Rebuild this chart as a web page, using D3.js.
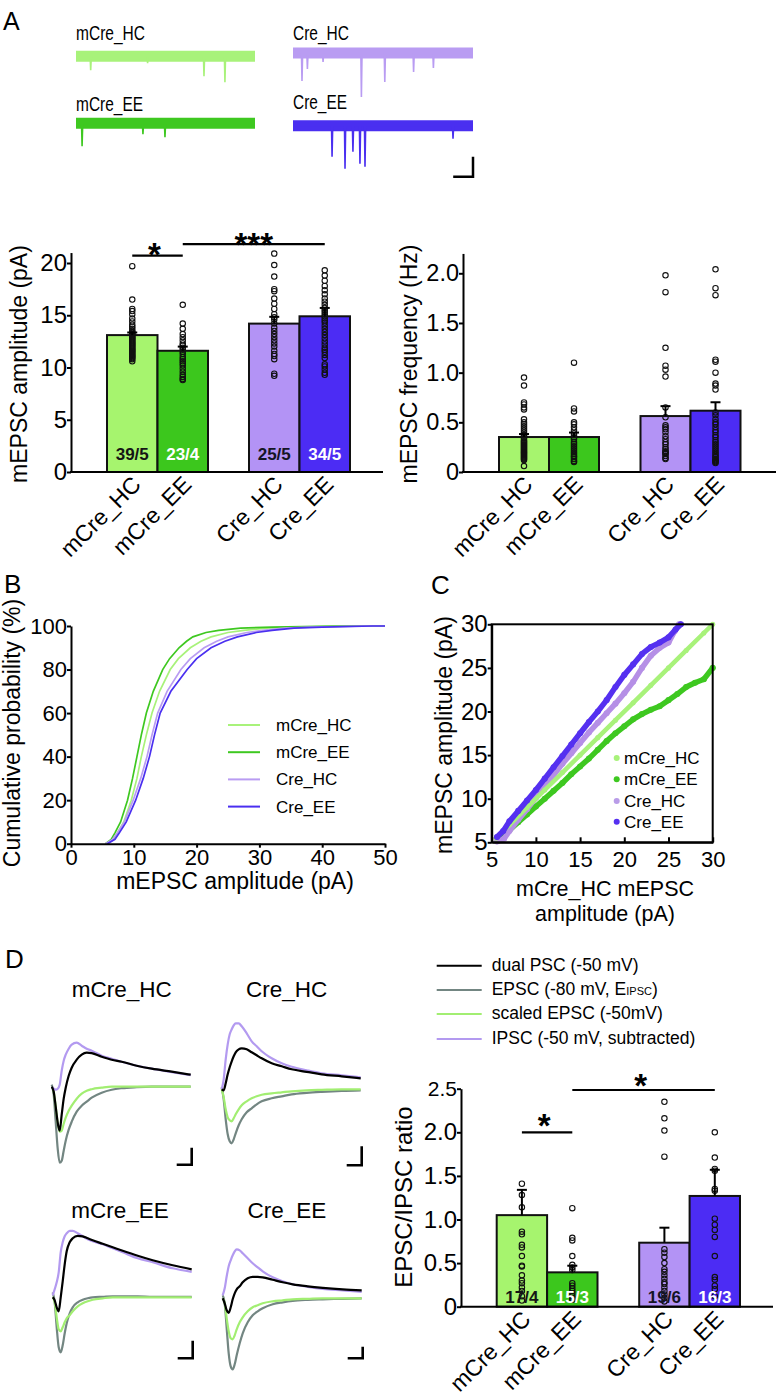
<!DOCTYPE html>
<html><head><meta charset="utf-8">
<script src="https://cdn.jsdelivr.net/npm/d3@7"></script>
<style>body{margin:0;background:#fff}svg{display:block}</style>
</head><body>
<svg id="fig" width="778" height="1400"></svg>
<script>
// ================= DATA =================
const groups = ["mCre_HC", "mCre_EE", "Cre_HC", "Cre_EE"];
const barColors = ["#a6f46e", "#3cc71d", "#b393f5", "#4c2cf4"];
const traceColors = ["#a8f27a", "#3ec820", "#b99cf2", "#4a2ff0"];
const nLabelColors = ["#151515", "#ffffff", "#151525", "#ffffff"];

// A: example traces (spike time in % of sweep, amplitude in pA)
const spikeT_mCreHC = [8.2, 40, 71.5, 83.2];
const spikeA_mCreHC = [-14, -7, -20, -26];
const spikeT_mCreEE = [3.4, 37.4, 49.7];
const spikeA_mCreEE = [-23, -11, -14];
const spikeT_CreHC = [5, 8, 16.7, 38, 51, 67, 78];
const spikeA_CreHC = [-28, -16, -9, -44, -29, -19, -15];
const spikeT_CreEE = [21.7, 28.9, 33.3, 37.2, 40, 88.9];
const spikeA_CreEE = [-31, -43, -26, -38, -41, -13];
const traceScaleBarA = [11, 20];

// A: mEPSC amplitude
const ampMeans = [13.1, 11.6, 14.2, 14.9];
const ampSems = [0.25, 0.4, 0.65, 0.8];
const ampN = ["39/5", "23/4", "25/5", "34/5"];
const ampDots_mCreHC = [19.7,16.5,15.6,15.4,15.1,14.7,14.4,14.1,13.9,13.7,13.5,13.4,13.3,13.2,13.1,13.0,12.9,12.8,12.7,12.6,12.5,12.4,12.3,12.2,12.1,12.0,11.9,11.8,11.7,11.6,11.5,11.4,11.3,11.2,11.1,11.0,10.9,10.8,10.6];
const ampDots_mCreEE = [16.0,14.2,13.7,13.2,12.9,12.6,12.3,12.1,11.9,11.7,11.5,11.3,11.0,10.8,10.6,10.4,10.2,9.9,9.6,9.3,9.1,8.9,8.8];
const ampDots_CreHC = [20.9,19.8,18.7,17.5,17.3,16.6,16.1,15.6,15.1,14.8,14.6,14.2,13.8,13.5,13.2,12.9,12.6,12.3,12.0,11.6,11.3,11.1,10.8,9.4,9.2];
const ampDots_CreEE = [19.3,18.8,18.3,17.8,17.4,17.0,16.6,16.3,16.0,15.7,15.5,15.3,15.1,14.9,14.7,14.5,14.3,14.0,13.7,13.4,13.1,12.8,12.5,12.2,11.9,11.7,11.5,11.2,10.9,10.3,10.1,9.8,9.5,9.3];
const ampTicks = [0, 5, 10, 15, 20];
const ampTickLabels = ["0", "5", "10", "15", "20"];
const ampSig = [{a: 0, b: 1, y: 20.7, s: "*"}, {a: 1, b: 3, y: 21.8, s: "***"}];

// A: mEPSC frequency
const freqMeans = [0.352, 0.352, 0.563, 0.617];
const freqSems = [0.03, 0.045, 0.1, 0.085];
const freqDots_mCreHC = [0.95,0.87,0.70,0.68,0.65,0.63,0.53,0.50,0.48,0.46,0.44,0.42,0.40,0.38,0.37,0.35,0.34,0.32,0.31,0.30,0.29,0.28,0.27,0.26,0.25,0.24,0.23,0.22,0.21,0.20,0.19,0.18,0.17,0.16,0.15,0.14,0.13,0.12,0.06];
const freqDots_mCreEE = [1.10,0.64,0.61,0.50,0.48,0.45,0.42,0.39,0.37,0.35,0.33,0.30,0.28,0.26,0.24,0.22,0.20,0.18,0.16,0.15,0.13,0.11,0.10];
const freqDots_CreHC = [1.98,1.81,1.25,1.07,1.03,0.96,0.65,0.55,0.47,0.45,0.43,0.40,0.36,0.33,0.30,0.28,0.25,0.23,0.21,0.20,0.19,0.18,0.16,0.14,0.13];
const freqDots_CreEE = [2.04,1.85,1.78,1.13,1.11,1.00,0.89,0.87,0.83,0.60,0.57,0.53,0.50,0.48,0.45,0.42,0.40,0.37,0.35,0.32,0.30,0.28,0.26,0.24,0.22,0.20,0.18,0.16,0.15,0.13,0.12,0.11,0.10,0.09];
const freqTicks = [0, 0.5, 1, 1.5, 2];
const freqTickLabels = ["0", "0.5", "1.0", "1.5", "2.0"];

// B: cumulative distributions (amplitude, pA, at each percentile)
const cdfPercent = [0,2,5,10,20,30,40,50,60,70,80,85,90,93,95,97,98,99,99.5,100,100];
const cdf_mCreHC = [5.8,6.8,7.4,8.4,9.6,10.5,11.2,12.0,12.9,14.1,15.8,17.1,19.0,20.7,22.3,25,27.5,31,36,45,50];
const cdf_mCreEE = [5.5,6.4,7.0,7.9,9.0,9.8,10.5,11.2,12.0,13.1,14.6,15.7,17.2,18.4,19.4,21.5,23.5,27,32,42,50];
const cdf_CreHC = [5.5,6.6,7.4,8.5,9.9,11.1,12.1,12.9,13.8,15.3,17.5,19.0,21.2,23.2,25.0,28,30.5,34,38,47,50];
const cdf_CreEE = [5.8,7.0,7.7,8.8,10.3,11.5,12.5,13.3,14.2,15.9,18.5,20.0,22.3,24.5,26.5,29.5,32,35.5,40,48,50];
const cdfXTicks = [0, 10, 20, 30, 40, 50];
const cdfYTicks = [0, 20, 40, 60, 80, 100];

// C: rank-ordered (Q-Q) plot vs mCre_HC
const qq_mCreHC_x = [5.5,7,9,11,13,15,17,19,21,23,25,27,29,30];
const qq_mCreHC_y = [5.5,7,9,11,13,15,17,19,21,23,25,27,29,30];
const qq_mCreEE_x = [6,7,8,9,10,11,12,13,14,15,16,17,18,19,20,21,22,23,24,25,26,27,28,29,30];
const qq_mCreEE_y = [5.6,6.4,7.3,8.2,9.1,10.0,10.9,11.8,12.8,13.7,14.6,15.6,16.6,17.5,18.3,19.1,19.7,20.2,20.6,21.3,22.0,22.8,23.3,23.7,25.0];
const qq_CreHC_x = [5.6,6.4,7,8,9,10,11,12,13,14,15,16,17,18,19,20,21,22,23,24,25,25.7,26.2];
const qq_CreHC_y = [5.1,5.4,6.3,7.6,8.8,10.1,11.4,12.7,14.0,15.2,16.4,17.6,18.7,19.8,20.9,22.1,23.4,25.0,26.4,27.3,27.9,29.2,30.0];
const qq_CreEE_x = [5.6,6.3,7,8,9,10,11,12,13,14,15,16,17,18,19,20,21,22,23,24,25,25.8,26.4];
const qq_CreEE_y = [5.6,6.3,7.4,8.6,9.8,11.0,12.3,13.6,14.9,16.2,17.5,18.8,20.0,21.3,22.8,24.2,25.4,26.6,27.4,27.9,28.5,29.4,30.0];
const qqTicks = [5, 10, 15, 20, 25, 30];

// D: averaged PSC traces (time in ms, current in pA, up = outward)
const psT = [0,2,4,6,8,10,12,14,17,20,25,30,35,40,50,60,70,85,100,120,139];
const ps1_gray  = [2,-8,-35,-62,-76,-74,-64,-54,-43,-35,-25,-19,-15,-11,-6,-3,-1.5,-0.5,0,0,0];
const ps1_green = [0,-5,-20,-36,-45,-44,-37,-31,-24,-19,-12,-7,-4,-2.5,-1,0,0,0,0,0,0];
const ps1_black = [0,-5,-20,-36,-44,-28,-12,-1,11,19,27,32,34,33.5,30,27,25,21,18,15,12];
const ps1_lav   = [0,-2,-3,-2,2,16,26,32,38,42,44,41,38,36,31,28,25,21,18,14.5,11.5];
const ps2_gray  = [2,-10,-30,-45,-52,-54,-50,-44,-36,-30,-23,-19,-15,-12,-9,-7,-5,-3.5,-2.5,-1.5,-1];
const ps2_green = [0,-8,-20,-28,-31,-32,-29,-25,-20,-16,-12,-9,-7,-5.5,-4,-3,-2,-1,-0.5,0,0];
const ps2_black = [0,-1,6,15,22,28,33,37,40,41,40,37,34,31,26,23,20,17.5,15,13,11];
const ps2_lav   = [0,10,30,45,55,60,64,66,66,63,56,48,43,38,31,26,22.5,19,16,14,12];
const ps3_gray  = [5,-5,-30,-50,-55,-48,-36,-26,-16,-10,-5,-2.5,-1,0,0.5,1,1,1,0.5,0.5,0.5];
const ps3_green = [0,-5,-20,-32,-34,-30,-25,-21,-18,-14,-9,-6,-4,-2.5,-1,0,0,0,0,0,0];
const ps3_black = [0,-3,-10,-14,0,16,33,46,55,59,61.5,61,59,57,53.5,50,46.5,41.5,37,32,28];
const ps3_lav   = [2,8,15,25,45,55,61,64,66.5,66.5,64,61,58,56,53,49,45,39,35,29,25.5];
const ps4_gray  = [3,-5,-30,-55,-68,-71,-66,-57,-45,-35,-24,-17,-13,-10,-6,-4,-2.5,-1.5,-1,-0.5,0];
const ps4_green = [0,-5,-20,-33,-40,-41,-37,-31,-24,-19,-13,-9,-7,-5,-3,-2,-1,-0.5,0,0,0];
const ps4_black = [0,-5,-12,-14.5,-9,-1,5,9,12,16,20,21.5,21.5,21,18.5,16,14,12,10.5,9,8];
const ps4_lav   = [3,10,22,32,38,43,47,49,48,45,40,35,31,27,21,17,14,11.5,9.5,8,6.5];
const psScaleBarMs = 15;
const psScaleBarPa = [17, 19, 17.6, 11.6];
const psScaleBarLow = [-78, -76, -61, -60];
const psLegend = ["dual PSC (-50 mV)", "EPSC (-80 mV, E", "scaled EPSC (-50mV)", "IPSC (-50 mV, subtracted)"];
const psColors = ["#000000", "#738682", "#a2ee72", "#b39af0"];

// D: EPSC/IPSC ratio
const ratioMeans = [1.05, 0.394, 0.734, 1.27];
const ratioSems = [0.29, 0.076, 0.172, 0.30];
const ratioN = ["17/4", "15/3", "19/6", "16/3"];
const ratioDots_mCreHC = [1.41,1.28,1.14,0.86,0.83,0.71,0.68,0.58,0.47,0.46,0.36,0.30,0.27,0.22,0.18,0.12,0.07];
const ratioDots_mCreEE = [1.13,0.79,0.76,0.58,0.48,0.45,0.42,0.27,0.24,0.21,0.18,0.15,0.12,0.10,0.08];
const ratioDots_CreHC = [2.35,2.16,2.02,1.72,0.66,0.62,0.57,0.50,0.43,0.40,0.36,0.32,0.28,0.26,0.22,0.18,0.14,0.10,0.06];
const ratioDots_CreEE = [2.00,1.71,1.58,1.56,1.35,1.33,1.01,0.94,0.88,0.80,0.58,0.34,0.31,0.24,0.20,0.12];
const ratioTicks = [0, 0.5, 1, 1.5, 2, 2.5];
const ratioTickLabels = ["0", "0.5", "1.0", "1.5", "2.0", "2.5"];
const ratioSig = [{a: 0, b: 1, y: 2.0, s: "*"}, {a: 1, b: 3, y: 2.485, s: "*"}];

// ================= DRAWING =================
const FONT = '"Liberation Sans", Arial, Helvetica, sans-serif';
const svg = d3.select("#fig");

function txt(g, x, y, s, size, o = {}) {
  const t = g.append("text").attr("x", x).attr("y", y).text(s)
    .attr("font-size", size).attr("font-family", FONT).attr("fill", o.fill || "#000");
  if (o.anchor) t.attr("text-anchor", o.anchor);
  if (o.weight) t.attr("font-weight", o.weight);
  if (o.rotate !== undefined) t.attr("transform", `rotate(${o.rotate},${x},${y})`);
  if (o.len) t.attr("textLength", o.len).attr("lengthAdjust", "spacingAndGlyphs");
  return t;
}
function styleAxis(ga, size) {
  ga.select(".domain").attr("stroke", "#000").attr("stroke-width", 2);
  ga.selectAll(".tick line").attr("stroke", "#000").attr("stroke-width", 2);
  ga.selectAll(".tick text").attr("font-size", size).attr("font-family", FONT).attr("fill", "#000");
}

// panel letters
txt(svg, 3, 30, "A", 25);
txt(svg, 4, 593, "B", 26);
txt(svg, 431, 594, "C", 26);
txt(svg, 5, 968, "D", 26);

// ---------- A traces ----------
(function () {
  const g = svg.append("g");
  const specs = [
    {name: "mCre_HC", t: spikeT_mCreHC, a: spikeA_mCreHC, c: traceColors[0], x0: 76, x1: 255, yc: 56.3, lx: 76, ly: 39.5, len: 69},
    {name: "mCre_EE", t: spikeT_mCreEE, a: spikeA_mCreEE, c: traceColors[1], x0: 76, x1: 255, yc: 123.3, lx: 76, ly: 110.5, len: 67},
    {name: "Cre_HC", t: spikeT_CreHC, a: spikeA_CreHC, c: traceColors[2], x0: 293, x1: 473, yc: 53, lx: 293, ly: 39.5, len: 56},
    {name: "Cre_EE", t: spikeT_CreEE, a: spikeA_CreEE, c: traceColors[3], x0: 293, x1: 473, yc: 125.7, lx: 293, ly: 109, len: 54}
  ];
  specs.forEach((s, k) => {
    const x = d3.scaleLinear().domain([0, 100]).range([s.x0, s.x1]);
    const y = d3.scaleLinear().domain([0, -60]).range([s.yc, s.yc + 60]);
    const line = d3.line().x(d => x(d[0])).y(d => y(d[1]));
    g.append("path").attr("d", line([[0, 0], [100, 0]])).attr("stroke", s.c).attr("stroke-width", 11).attr("fill", "none");
    const pts = [[0, 0]];
    s.t.forEach((t, i) => { pts.push([t - 0.3, 0], [t, s.a[i]], [t + 0.35, 0]); });
    pts.push([100, 0]);
    g.append("path").attr("d", line(pts)).attr("stroke", s.c).attr("stroke-width", 1.6).attr("fill", "none");
    txt(g, s.lx, s.ly, s.name, 20.5, {len: s.len});
    if (k === 3) {
      const tr = 100, low = -51;
      g.append("path").attr("d", line([[tr - traceScaleBarA[0], low], [tr, low], [tr, low + traceScaleBarA[1]]]))
        .attr("stroke", "#000").attr("stroke-width", 2.5).attr("fill", "none");
    }
  });
})();

// ---------- bar charts ----------
function barChart(o) {
  const g = svg.append("g");
  const x = d3.scaleBand().domain(groups).range([o.left, o.left + 4 * o.bw]);
  const xl = c => x(c) + (groups.indexOf(c) >= 2 ? o.gap : 0);
  const xc = c => xl(c) + x.bandwidth() / 2;
  const y = d3.scaleLinear().domain([0, o.ymax]).range([o.base, o.base - o.ymax * o.ppu]);
  g.selectAll("rect.bar").data(groups).join("rect").attr("class", "bar")
    .attr("x", c => xl(c)).attr("y", (c, i) => y(o.means[i]))
    .attr("width", x.bandwidth()).attr("height", (c, i) => y(0) - y(o.means[i]))
    .attr("fill", (c, i) => barColors[i]).attr("stroke", "#111").attr("stroke-width", 2);
  groups.forEach((c, i) => {
    g.append("g").selectAll("circle").data(o.dots[i]).join("circle")
      .attr("cx", xc(c)).attr("cy", v => y(v)).attr("r", 2.7)
      .attr("fill", "none").attr("stroke", "#111").attr("stroke-width", 1.1);
  });
  groups.forEach((c, i) => {
    const top = y(o.means[i] + o.sems[i]);
    g.append("line").attr("x1", xc(c)).attr("x2", xc(c)).attr("y1", y(o.means[i])).attr("y2", top).attr("stroke", "#000").attr("stroke-width", 2);
    g.append("line").attr("x1", xc(c) - 5).attr("x2", xc(c) + 5).attr("y1", top).attr("y2", top).attr("stroke", "#000").attr("stroke-width", 2);
  });
  if (o.n) groups.forEach((c, i) => txt(g, xc(c), o.nY, o.n[i], 17, {anchor: "middle", weight: "bold", fill: nLabelColors[i]}));
  if (o.sig) o.sig.forEach(s => {
    const xa = xc(groups[s.a]), xb = xc(groups[s.b]);
    g.append("line").attr("x1", xa).attr("x2", xb).attr("y1", y(s.y)).attr("y2", y(s.y)).attr("stroke", "#000").attr("stroke-width", 2.2);
    txt(g, (xa + xb) / 2 - (s.s.length === 1 ? 3 : 0), y(s.y) - s.lift + 19, s.s, 33, {anchor: "middle", weight: "bold"});
  });
  const ya = d3.axisLeft(y).tickValues(o.ticks).tickFormat((d, i) => o.tickLabels[i]).tickSize(4).tickPadding(0).tickSizeOuter(0);
  const ga = g.append("g").attr("transform", `translate(${o.axisX},0)`).call(ya);
  styleAxis(ga, o.tickFont);
  if (o.smallTop) ga.selectAll(".tick text").filter(d => d === o.ymax).attr("font-size", o.smallTop);
  g.append("line").attr("x1", o.axisX - 1).attr("x2", o.axisEnd).attr("y1", y(0)).attr("y2", y(0)).attr("stroke", "#000").attr("stroke-width", 2);
  groups.forEach(c => {
    const px = xc(c) + 10, py = y(0) + 14;
    txt(g, px, py, c, 23, {anchor: "end", rotate: -45});
  });
  txt(g, o.ylabX, o.ylabY, o.ylab, o.ylabSize, {anchor: "middle", rotate: -90});
}

barChart({left: 107, bw: 50.5, gap: 41, base: 472, ppu: 10.45, ymax: 21, axisX: 71, axisEnd: 383,
  means: ampMeans, sems: ampSems, dots: [ampDots_mCreHC, ampDots_mCreEE, ampDots_CreHC, ampDots_CreEE],
  n: ampN, nY: 460, sig: ampSig.map((s, i) => Object.assign({lift: i ? 7.3 : 8.5}, s)),
  ticks: ampTicks, tickLabels: ampTickLabels, tickFont: 24,
  ylab: "mEPSC amplitude (pA)", ylabX: 27, ylabY: 364, ylabSize: 23});

barChart({left: 499, bw: 50, gap: 41.5, base: 472, ppu: 99.35, ymax: 2.2, axisX: 463, axisEnd: 776,
  means: freqMeans, sems: freqSems, dots: [freqDots_mCreHC, freqDots_mCreEE, freqDots_CreHC, freqDots_CreEE],
  ticks: freqTicks, tickLabels: freqTickLabels, tickFont: 23.5,
  ylab: "mEPSC frequency (Hz)", ylabX: 417, ylabY: 364, ylabSize: 23});

barChart({left: 496.7, bw: 50.4, gap: 41.7, base: 1306.7, ppu: 87.2, ymax: 2.5, axisX: 461, axisEnd: 773,
  means: ratioMeans, sems: ratioSems, dots: [ratioDots_mCreHC, ratioDots_mCreEE, ratioDots_CreHC, ratioDots_CreEE],
  n: ratioN, nY: 1303, sig: ratioSig.map((s, i) => Object.assign({lift: i ? 12 : 14}, s)),
  ticks: ratioTicks, tickLabels: ratioTickLabels, tickFont: 24, smallTop: 21,
  ylab: "EPSC/IPSC ratio", ylabX: 412, ylabY: 1197, ylabSize: 24});

// ---------- B: cumulative ----------
(function () {
  const g = svg.append("g");
  const x = d3.scaleLinear().domain([0, 50]).range([71, 385]);
  const y = d3.scaleLinear().domain([0, 100]).range([843.7, 626]);
  const series = [cdf_mCreHC, cdf_mCreEE, cdf_CreHC, cdf_CreEE];
  const ln = d3.line().x(d => x(d[0])).y(d => y(d[1])).curve(d3.curveLinear);
  series.forEach((s, i) => {
    g.append("path").attr("d", ln(s.map((v, j) => [v, cdfPercent[j]])))
      .attr("fill", "none").attr("stroke", traceColors[i]).attr("stroke-width", 1.7);
  });
  const gx = g.append("g").attr("transform", "translate(0,843.7)")
    .call(d3.axisBottom(x).tickValues(cdfXTicks).tickFormat(d3.format("d")).tickSize(4).tickPadding(2).tickSizeOuter(0));
  styleAxis(gx, 22);
  const gy = g.append("g").attr("transform", "translate(71,0)")
    .call(d3.axisLeft(y).tickValues(cdfYTicks).tickFormat(d3.format("d")).tickSize(4).tickPadding(0).tickSizeOuter(0));
  styleAxis(gy, 22);
  txt(g, 235, 889, "mEPSC amplitude (pA)", 23, {anchor: "middle"});
  txt(g, 20, 733, "Cumulative probability (%)", 23, {anchor: "middle", rotate: -90});
  groups.forEach((c, i) => {
    const yy = 725 + i * 27.2;
    g.append("line").attr("x1", 228).attr("x2", 260).attr("y1", yy).attr("y2", yy).attr("stroke", traceColors[i]).attr("stroke-width", 2);
    txt(g, 276, yy + 6, c, 17);
  });
})();

// ---------- C: Q-Q ----------
(function () {
  const g = svg.append("g");
  const x = d3.scaleLinear().domain([5, 30]).range([491.7, 712.7]);
  const y = d3.scaleLinear().domain([5, 30]).range([842.3, 624.3]);
  const line = d3.line().x(d => x(d[0])).y(d => y(d[1]));
  const series = [
    {xs: qq_mCreEE_x, ys: qq_mCreEE_y, c: traceColors[1], w: 5.5},
    {xs: qq_CreHC_x, ys: qq_CreHC_y, c: "#b58fe6", w: 5.5},
    {xs: qq_mCreHC_x, ys: qq_mCreHC_y, c: traceColors[0], w: 4.5},
    {xs: qq_CreEE_x, ys: qq_CreEE_y, c: "#5530f0", w: 5.5}
  ];
  series.forEach(s => {
    const pts = s.xs.map((v, j) => [v, s.ys[j]]);
    g.append("path").attr("d", line(pts)).attr("fill", "none").attr("stroke", s.c)
      .attr("stroke-width", s.w).attr("stroke-linecap", "round").attr("stroke-linejoin", "round");
    g.append("g").selectAll("circle").data(pts).join("circle").attr("cx", d => x(d[0])).attr("cy", d => y(d[1]))
      .attr("r", s.w / 2 + 0.3).attr("fill", s.c);
  });
  g.append("rect").attr("x", 491.7).attr("y", 624.3).attr("width", 221).attr("height", 218)
    .attr("fill", "none").attr("stroke", "#000").attr("stroke-width", 2);
  const gx = g.append("g").attr("transform", "translate(0,842.3)")
    .call(d3.axisBottom(x).tickValues(qqTicks).tickSize(-5).tickPadding(9).tickSizeOuter(0));
  styleAxis(gx, 22);
  const gy = g.append("g").attr("transform", "translate(491.7,0)")
    .call(d3.axisLeft(y).tickValues(qqTicks).tickSize(4).tickPadding(0).tickSizeOuter(0));
  styleAxis(gy, 24);
  txt(g, 605, 896, "mCre_HC mEPSC", 21.5, {anchor: "middle"});
  txt(g, 605, 920.5, "amplitude (pA)", 21.5, {anchor: "middle"});
  txt(g, 452, 735, "mEPSC amplitude (pA)", 23, {anchor: "middle", rotate: -90});
  const lc = [traceColors[0], traceColors[1], "#b99ce8", "#5530f0"];
  const ly = [758, 779.3, 801, 821.7];
  groups.forEach((c, i) => {
    g.append("circle").attr("cx", 616.7).attr("cy", ly[i]).attr("r", 3).attr("fill", lc[i]);
    txt(g, 624, ly[i] + 6, c, 17);
  });
})();

// ---------- D: PSC traces ----------
(function () {
  const g = svg.append("g");
  const panels = [
    {title: "mCre_HC", x0: 51.7, base: 1086.7, tx: 121.7, ty: 997.4, d: [ps1_gray, ps1_green, ps1_lav, ps1_black]},
    {title: "Cre_HC", x0: 221.7, base: 1089.3, tx: 286.7, ty: 997.4, d: [ps2_gray, ps2_green, ps2_lav, ps2_black]},
    {title: "mCre_EE", x0: 52.7, base: 1297.3, tx: 120, ty: 1217.5, d: [ps3_gray, ps3_green, ps3_lav, ps3_black]},
    {title: "Cre_EE", x0: 222.7, base: 1298.3, tx: 287, ty: 1217.5, d: [ps4_gray, ps4_green, ps4_lav, ps4_black]}
  ];
  const cols = [psColors[1], psColors[2], psColors[3], psColors[0]];
  panels.forEach((p, k) => {
    const x = d3.scaleLinear().domain([0, 139]).range([p.x0, p.x0 + 139]);
    const y = d3.scaleLinear().domain([0, 100]).range([p.base, p.base - 100]);
    const line = d3.line().x(d => x(d[0])).y(d => y(d[1])).curve(d3.curveMonotoneX);
    p.d.forEach((arr, j) => {
      g.append("path").attr("d", line(arr.map((v, i) => [psT[i], v])))
        .attr("fill", "none").attr("stroke", cols[j]).attr("stroke-width", 2.2);
    });
    const lo = psScaleBarLow[k], te = 140;
    g.append("path").attr("d", d3.line().x(d => x(d[0])).y(d => y(d[1]))([[te - psScaleBarMs, lo], [te, lo], [te, lo + psScaleBarPa[k]]]))
      .attr("fill", "none").attr("stroke", "#000").attr("stroke-width", 2.6);
    txt(g, p.tx, p.ty, p.title, 22.5, {anchor: "middle"});
  });
  const rows = [965.7, 990, 1014, 1039];
  psLegend.forEach((s, i) => {
    g.append("line").attr("x1", 436.7).attr("x2", 481.7).attr("y1", rows[i]).attr("y2", rows[i]).attr("stroke", psColors[i]).attr("stroke-width", 2);
    const t = txt(g, 491.7, rows[i] + 5, s, 17.5);
    if (i === 1) {
      t.append("tspan").attr("font-size", 11).text("IPSC");
      t.append("tspan").text(")");
    }
  });
})();
</script>
</body></html>
